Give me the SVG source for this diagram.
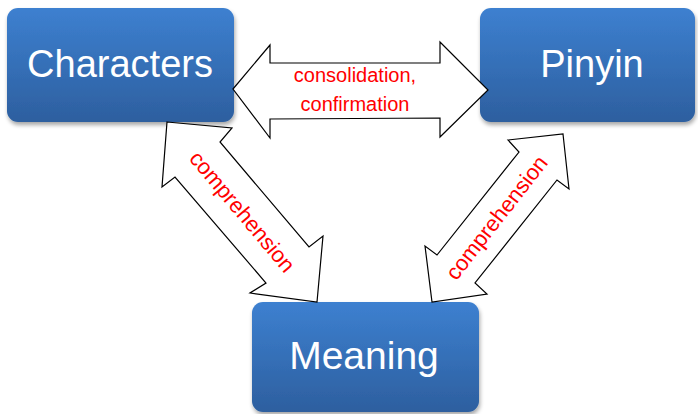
<svg xmlns="http://www.w3.org/2000/svg" width="698" height="414" viewBox="0 0 698 414">
  <defs>
    <linearGradient id="boxFill" x1="0" y1="0" x2="0" y2="1">
      <stop offset="0" stop-color="#3d80d0"/>
      <stop offset="1" stop-color="#2d5f9f"/>
    </linearGradient>
    <filter id="softShadow" x="-10%" y="-10%" width="125%" height="130%">
      <feGaussianBlur in="SourceAlpha" stdDeviation="2"/>
      <feOffset dx="1" dy="3" result="blur"/>
      <feComponentTransfer><feFuncA type="linear" slope="0.35"/></feComponentTransfer>
      <feMerge><feMergeNode/><feMergeNode in="SourceGraphic"/></feMerge>
    </filter>
  </defs>
  <style>
    .box { fill: url(#boxFill); filter: url(#softShadow); }
    .title { font-family: "Liberation Sans", Arial, sans-serif; font-size: 38px; fill: #ffffff; text-anchor: middle; }
    .arrow { fill: #ffffff; stroke: #000000; stroke-width: 1.2; stroke-linejoin: miter; }
    .label { font-family: "Liberation Sans", Arial, sans-serif; font-size: 20px; fill: #ff0000; text-anchor: middle; }
    .diag { font-size: 22px; }
  </style>
  <rect width="698" height="414" fill="#ffffff"/>

  <g id="characters">
    <rect class="box" x="7" y="8" width="227" height="114" rx="11"/>
    <text class="title" x="120" y="77">Characters</text>
  </g>

  <g id="pinyin">
    <rect class="box" x="480" y="8" width="215" height="114" rx="11"/>
    <text class="title" x="592" y="77">Pinyin</text>
  </g>

  <g id="meaning">
    <rect class="box" x="252" y="302" width="227" height="110" rx="11"/>
    <text class="title" x="364" y="369" style="font-size:39px">Meaning</text>
  </g>

  <g id="connectors">
    <!-- Characters <-> Pinyin -->
    <polygon class="arrow" points="233,89 270,45 270,63 440,63 440,42 488,90 440,137 440,118 270,119 270,138"/>
    <text class="label" x="355" y="82">consolidation,</text>
    <text class="label" x="355" y="111">confirmation</text>

    <!-- Characters <-> Meaning -->
    <polygon class="arrow" points="167,122 232,128 220,142 309,247 323,236 317,302 250,293 266,283 175,177 162,187"/>
    <text class="label diag" transform="translate(242,212) rotate(50)" y="7">comprehension</text>

    <!-- Pinyin <-> Meaning -->
    <polygon class="arrow" points="563,134 569,189 557,180 475,283 487,294 432,302 425,246 437,255 519,152 508,140"/>
    <text class="label diag" transform="translate(497,218) rotate(-52)" y="7">comprehension</text>
  </g>
</svg>
